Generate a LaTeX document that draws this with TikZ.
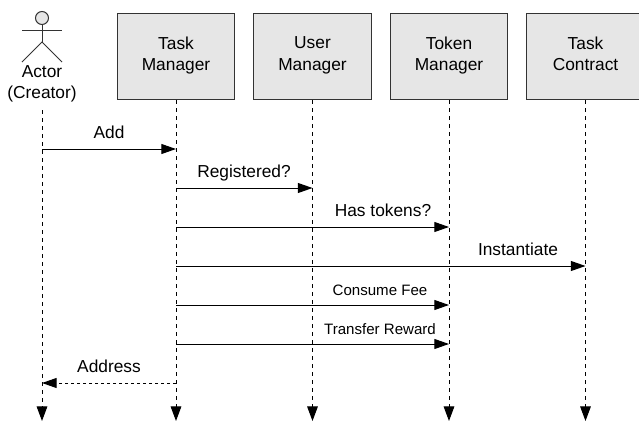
\documentclass[tikz,border=0pt]{standalone}
\usepackage{fontspec}
\setmainfont{Liberation Sans}
\usetikzlibrary{arrows.meta}

\tikzset{every picture/.style={line width=0.75pt}}
\tikzset{
  unitbox/.style={draw={rgb,255:red,51;green,51;blue,51},fill={rgb,255:red,230;green,230;blue,230},line width=0.9pt,minimum width=88pt,minimum height=65pt,align=center,font=\fontsize{13}{16.2}\selectfont},
  lifeline/.style={dashed,dash pattern=on 3pt off 3pt,-{Triangle[length=11pt,width=8pt]}},
  callmsg/.style={-{Triangle[length=11pt,width=7.5pt]}},
  replymsg/.style={dashed,dash pattern=on 2.25pt off 2.25pt,-{Triangle[length=11pt,width=7.5pt]}},
  msgtext/.style={font=\fontsize{13}{16.2}\selectfont},
  smalltext/.style={font=\fontsize{11.3}{14}\selectfont}
}

\begin{document}
\begin{tikzpicture}[x=0.75pt,y=0.75pt,yscale=-1,xscale=1]
\useasboundingbox (0,0) rectangle (639,421);

%Actor figure
\draw [color={rgb,255:red,51;green,51;blue,51},fill={rgb,255:red,230;green,230;blue,230}] (42,18) circle [radius=6.5];
\draw [color={rgb,255:red,51;green,51;blue,51}] (42,24.5) -- (42,42);
\draw [color={rgb,255:red,51;green,51;blue,51}] (22,30.5) -- (61.5,30.5);
\draw [color={rgb,255:red,51;green,51;blue,51}] (22,62) -- (42,42) -- (62,62);

% Text Node
\node (actor) [align=center,font=\fontsize{13}{16.2}\selectfont] at (42,84) {Actor\\(Creator)};

%Boxes
\node (taskmgr) [unitbox] at (176,56.5) {Task\\Manager\\[-12pt]};
\node (usermgr) [unitbox] at (312.5,56.5) {User\\Manager\\[-12pt]};
\node (tokenmgr) [unitbox] at (449,56.5) {Token\\Manager\\[-12pt]};
\node (contract) [unitbox] at (585.5,56.5) {Task\\Contract\\[-12pt]};

%Lifeline ends
\coordinate (actortop) at (42,110);
\coordinate (actorend) at (42,421);
\coordinate (taskend) at (176,421);
\coordinate (userend) at (312.5,421);
\coordinate (tokenend) at (449,421);
\coordinate (contractend) at (585.5,421);

\draw [lifeline] (actortop) -- (actorend);
\draw [lifeline] (taskmgr) -- (taskend);
\draw [lifeline] (usermgr) -- (userend);
\draw [lifeline] (tokenmgr) -- (tokenend);
\draw [lifeline] (contract) -- (contractend);

%Straight Lines
\draw [callmsg] (actortop |- 0,149) -- (taskmgr.south |- 0,149);
\draw [callmsg] (taskmgr.south |- 0,188) -- (usermgr.south |- 0,188);
\draw [callmsg] (taskmgr.south |- 0,227) -- (tokenmgr.south |- 0,227);
\draw [callmsg] (taskmgr.south |- 0,266) -- (contract.south |- 0,266);
\draw [callmsg] (taskmgr.south |- 0,305) -- (tokenmgr.south |- 0,305);
\draw [callmsg] (taskmgr.south |- 0,344) -- (tokenmgr.south |- 0,344);
\draw [replymsg] (taskmgr.south |- 0,383) -- (actortop |- 0,383);

% Text Node
\node (addlabel) [msgtext] at (109,132) {Add};
% Text Node
\node (reglabel) [msgtext] at (244,173) {Registered?};
% Text Node
\node (tokenslabel) [msgtext] at (383,210) {Has tokens?};
% Text Node
\node (instlabel) [msgtext] at (518,249) {Instantiate};
% Text Node
\node (feelabel) [smalltext] at (380,290) {Consume Fee};
% Text Node
\node (rewardlabel) [smalltext] at (380,329) {Transfer Reward};
% Text Node
\node (addrlabel) [msgtext] at (109,366) {Address};

\end{tikzpicture}
\end{document}
